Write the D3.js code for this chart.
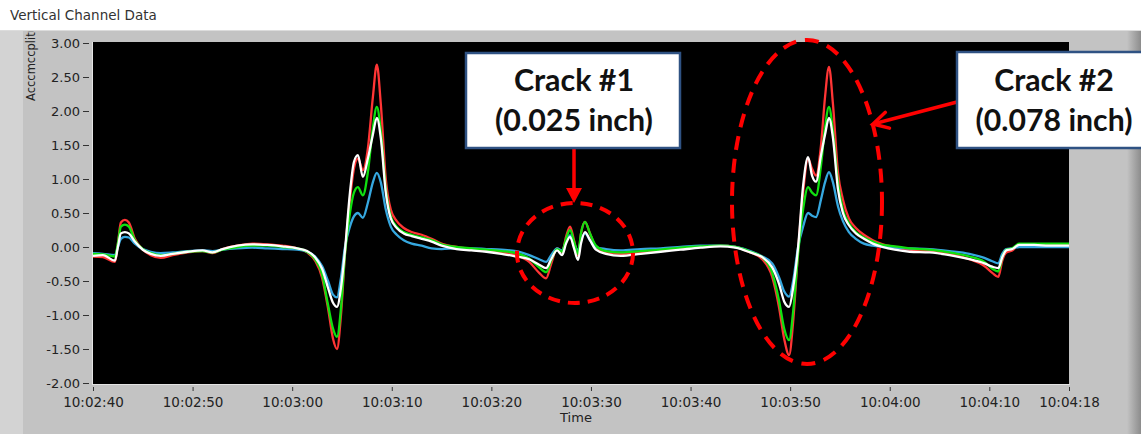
<!DOCTYPE html>
<html><head><meta charset="utf-8">
<script src="https://cdn.jsdelivr.net/npm/d3@7"></script>
<style>
html,body{margin:0;padding:0;background:#fff;overflow:hidden}
svg{display:block}
</style></head>
<body>
<svg id="chart" width="1141" height="434"></svg>
<script>
// ---- data (seconds after 10:02:40) ----
const timeSec = [0, 1, 2.2, 2.5, 2.8, 3.2, 3.6, 4.2, 5.0, 5.8,
 6.8, 8, 9.5, 11, 12, 13, 14.5, 16, 17.5, 19,
 20.5, 21.5, 22.3, 23, 23.6, 24.1, 24.5, 24.9, 25.3, 25.8,
 26.2, 26.6, 27.1, 27.6, 28.1, 28.5, 28.9, 29.4, 29.9, 30.5,
 31.2, 32, 33, 34, 35, 36.5, 38, 39.5, 41, 42.5,
 43.8, 44.8, 45.5, 46.0, 46.6, 47.1, 47.5, 47.9, 48.3, 48.7,
 49.0, 49.4, 49.9, 50.5, 51.5, 53, 55, 57, 59, 61,
 63, 64.5, 66, 67.2, 68.2, 68.9, 69.4, 69.9, 70.3, 70.8,
 71.3, 71.8, 72.2, 72.6, 73.1, 73.5, 73.9, 74.3, 74.8, 75.3,
 75.9, 76.6, 77.4, 78.3, 79.3, 80.5, 82, 84, 86, 88,
 89.5, 90.3, 90.9, 91.3, 91.7, 92.3, 93, 94.5, 96, 98];

const redValues = [-0.14, -0.15, -0.22, 0.05, 0.36, 0.40, 0.36, 0.12, -0.04, -0.12,
 -0.16, -0.12, -0.08, -0.06, -0.09, -0.03, 0.02, 0.05, 0.04, 0.02,
 -0.02, -0.08, -0.20, -0.45, -0.90, -1.35, -1.50, -1.00, -0.10, 0.70,
 1.15, 1.30, 1.13, 1.45, 2.20, 2.68, 2.10, 1.00, 0.55, 0.38,
 0.28, 0.22, 0.18, 0.12, 0.05, 0.00, -0.03, -0.05, -0.08, -0.12,
 -0.22, -0.38, -0.46, -0.25, -0.02, -0.08, 0.15, 0.30, 0.10, -0.12,
 0.20, 0.37, 0.20, 0.00, -0.08, -0.10, -0.08, -0.05, -0.02, 0.00,
 0.02, 0.00, -0.08, -0.18, -0.44, -0.90, -1.35, -1.59, -1.10, -0.05,
 0.80, 1.30, 1.15, 1.05, 1.50, 2.20, 2.65, 2.10, 1.10, 0.70,
 0.42, 0.28, 0.18, 0.10, 0.04, 0.00, -0.04, -0.06, -0.10, -0.18,
 -0.28, -0.38, -0.44, -0.20, -0.08, -0.05, 0.03, 0.03, 0.03, 0.03];

const greenValues = [-0.10, -0.11, -0.14, 0.05, 0.30, 0.33, 0.30, 0.10, -0.03, -0.09,
 -0.12, -0.10, -0.07, -0.06, -0.08, -0.04, 0.00, 0.02, 0.02, 0.00,
 -0.02, -0.07, -0.18, -0.40, -0.85, -1.20, -1.32, -0.90, -0.10, 0.50,
 0.80, 0.88, 0.76, 1.10, 1.75, 2.06, 1.70, 0.85, 0.45, 0.30,
 0.22, 0.18, 0.14, 0.10, 0.04, 0.00, -0.02, -0.04, -0.06, -0.09,
 -0.17, -0.30, -0.37, -0.20, -0.03, -0.07, 0.12, 0.25, 0.08, -0.10,
 0.20, 0.37, 0.20, 0.02, -0.06, -0.08, -0.06, -0.04, -0.01, 0.01,
 0.02, 0.00, -0.07, -0.15, -0.38, -0.80, -1.20, -1.37, -0.95, -0.10,
 0.55, 0.88, 0.80, 0.76, 1.20, 1.75, 2.06, 1.70, 0.95, 0.55,
 0.35, 0.22, 0.14, 0.08, 0.03, 0.01, -0.02, -0.04, -0.08, -0.14,
 -0.22, -0.32, -0.36, -0.15, -0.04, -0.02, 0.05, 0.05, 0.05, 0.05];

const whiteValues = [-0.13, -0.12, -0.20, 0.00, 0.20, 0.22, 0.20, 0.08, -0.04, -0.10,
 -0.13, -0.10, -0.07, -0.05, -0.08, -0.03, 0.02, 0.04, 0.03, 0.01,
 -0.02, -0.06, -0.15, -0.32, -0.60, -0.82, -0.88, -0.60, -0.05, 0.80,
 1.25, 1.35, 1.03, 1.30, 1.65, 1.90, 1.60, 0.80, 0.42, 0.28,
 0.20, 0.16, 0.12, 0.08, 0.02, -0.03, -0.05, -0.07, -0.10, -0.14,
 -0.18, -0.26, -0.31, -0.18, -0.05, -0.12, 0.05, 0.15, -0.02, -0.19,
 0.05, 0.22, 0.10, -0.04, -0.10, -0.13, -0.10, -0.07, -0.04, -0.01,
 0.01, -0.01, -0.08, -0.15, -0.30, -0.55, -0.80, -0.88, -0.60, 0.00,
 0.90, 1.32, 1.05, 0.96, 1.35, 1.65, 1.90, 1.60, 0.85, 0.50,
 0.32, 0.20, 0.12, 0.05, 0.00, -0.04, -0.07, -0.08, -0.12, -0.18,
 -0.24, -0.29, -0.31, -0.15, -0.05, -0.03, 0.03, 0.03, 0.02, 0.02];

const blueValues = [-0.09, -0.10, -0.12, 0.00, 0.12, 0.15, 0.14, 0.05, -0.03, -0.07,
 -0.09, -0.08, -0.06, -0.05, -0.06, -0.04, -0.02, -0.01, -0.02, -0.03,
 -0.04, -0.07, -0.14, -0.28, -0.50, -0.70, -0.74, -0.45, 0.00, 0.30,
 0.45, 0.50, 0.43, 0.65, 0.95, 1.09, 0.95, 0.55, 0.30, 0.18,
 0.10, 0.05, 0.02, -0.02, -0.03, -0.02, -0.02, -0.03, -0.04, -0.06,
 -0.12, -0.18, -0.22, -0.12, -0.02, -0.05, 0.08, 0.17, 0.05, -0.05,
 0.10, 0.20, 0.10, 0.00, -0.03, -0.05, -0.03, -0.02, 0.00, 0.02,
 0.02, 0.00, -0.06, -0.14, -0.24, -0.45, -0.65, -0.73, -0.50, 0.00,
 0.30, 0.50, 0.46, 0.44, 0.70, 0.95, 1.10, 0.95, 0.60, 0.38,
 0.22, 0.12, 0.05, 0.02, 0.00, -0.01, -0.02, -0.03, -0.06, -0.10,
 -0.16, -0.21, -0.24, -0.10, -0.03, -0.02, 0.00, 0.00, 0.00, 0.00];

const xTickLabels = ["10:02:40","10:02:50","10:03:00","10:03:10","10:03:20","10:03:30",
 "10:03:40","10:03:50","10:04:00","10:04:10","10:04:18"];
const yTickValues = [3, 2.5, 2, 1.5, 1, 0.5, 0, -0.5, -1, -1.5, -2];

const titleText = "Vertical Channel Data";
const yLabelText = "Acccmccplitu";
const xLabelText = "Time";
const crack1Lines = ["Crack #1", "(0.025 inch)"];
const crack2Lines = ["Crack #2", "(0.078 inch)"];

// ---- layout ----
const svg = d3.select("#chart");
const W = 1141, H = 434;
const plot = {left: 93, right: 1069, top: 42, bottom: 384};
const parse = d3.timeParse("%H:%M:%S");
const t0 = parse(xTickLabels[0]);
const tEnd = parse(xTickLabels[xTickLabels.length - 1]);
const toDate = s => new Date(t0.getTime() + s * 1000);

const x = d3.scaleTime().domain([t0, tEnd]).range([plot.left, plot.right]);
const y = d3.scaleLinear().domain([-2, 3]).range([383, 43]);

// backgrounds
const defs = svg.append("defs");
const rg = defs.append("linearGradient").attr("id", "rgrad").attr("x1", 0).attr("x2", 1).attr("y1", 0).attr("y2", 0);
rg.append("stop").attr("offset", 0).attr("stop-color", "#c3c3c3");
rg.append("stop").attr("offset", 1).attr("stop-color", "#8c8c8c");

svg.append("rect").attr("x", 0).attr("y", 0).attr("width", W).attr("height", H).attr("fill", "#ffffff");
svg.append("rect").attr("x", 0).attr("y", 30).attr("width", W).attr("height", H - 30).attr("fill", "#c3c3c3");
svg.append("rect").attr("x", 0).attr("y", 30).attr("width", 23).attr("height", H - 30).attr("fill", "#d3d3d3");
svg.append("rect").attr("x", 1127).attr("y", 30).attr("width", 14).attr("height", H - 30).attr("fill", "url(#rgrad)");
svg.append("line").attr("x1", 0).attr("x2", W).attr("y1", 30.5).attr("y2", 30.5).attr("stroke", "#dcdcdc");

// title
svg.append("text").attr("x", 10).attr("y", 20).text(titleText)
  .attr("font-family", "DejaVu Sans, sans-serif").attr("font-size", 13.5).attr("fill", "#333");

// plot background
svg.append("rect").attr("x", plot.left).attr("y", plot.top)
  .attr("width", plot.right - plot.left).attr("height", plot.bottom - plot.top).attr("fill", "#000");

// axes
const fmt = v => v.toFixed(2);
const yAxis = d3.axisLeft(y).tickValues(yTickValues).tickFormat(fmt).tickSize(6).tickPadding(3);
const gy = svg.append("g").attr("transform", "translate(89,0)").call(yAxis);
gy.select(".domain").remove();
gy.selectAll(".tick line").attr("stroke", "#333");
gy.selectAll(".tick text").attr("font-family", "DejaVu Sans, sans-serif").attr("font-size", 13).attr("fill", "#222");

const xAxis = d3.axisBottom(x).tickValues(xTickLabels.map(parse)).tickFormat(d3.timeFormat("%H:%M:%S")).tickSize(4).tickPadding(6);
const gx = svg.append("g").attr("transform", "translate(0,387)").call(xAxis);
gx.select(".domain").remove();
gx.selectAll(".tick line").attr("stroke", "#333");
gx.selectAll(".tick text").attr("font-family", "DejaVu Sans, sans-serif").attr("font-size", 13.5).attr("fill", "#222");

// frame lines
svg.append("line").attr("x1", plot.left - 0.5).attr("x2", plot.left - 0.5).attr("y1", plot.top).attr("y2", plot.bottom + 1)
  .attr("stroke", "#e4e4e4");
svg.append("line").attr("x1", plot.left - 1).attr("x2", plot.right + 1).attr("y1", plot.bottom + 0.5).attr("y2", plot.bottom + 0.5)
  .attr("stroke", "#e4e4e4");

// axis labels
const lclip = defs.append("clipPath").attr("id", "lclip");
lclip.append("rect").attr("x", 0).attr("y", 31).attr("width", 60).attr("height", 100);
svg.append("g").attr("clip-path", "url(#lclip)")
  .append("text").attr("transform", "translate(35,101) rotate(-90)").text(yLabelText)
  .attr("font-family", "DejaVu Sans, sans-serif").attr("font-size", 11.5).attr("fill", "#222");
svg.append("text").attr("x", 576).attr("y", 422).attr("text-anchor", "middle").text(xLabelText)
  .attr("font-family", "DejaVu Sans, sans-serif").attr("font-size", 13).attr("fill", "#222");

// series
const series = [
  {name: "red", values: redValues, color: "#ff3535"},
  {name: "blue", values: blueValues, color: "#36a8e0"},
  {name: "green", values: greenValues, color: "#10e010"},
  {name: "white", values: whiteValues, color: "#ffffff"}
];
const clip = defs.append("clipPath").attr("id", "pclip");
clip.append("rect").attr("x", plot.left).attr("y", plot.top).attr("width", plot.right - plot.left).attr("height", plot.bottom - plot.top);
const line = d3.line().x((d, i) => x(toDate(timeSec[i]))).y(d => y(d)).curve(d3.curveMonotoneX);
const gl = svg.append("g").attr("clip-path", "url(#pclip)");
series.forEach(s => {
  gl.append("path").datum(s.values).attr("d", line).attr("fill", "none")
    .attr("stroke", s.color).attr("stroke-width", 2.3).attr("stroke-linejoin", "round");
});

// annotations
const red = "#ff0000";
const ann = svg.append("g");
ann.append("ellipse").attr("cx", 575).attr("cy", 253).attr("rx", 58).attr("ry", 50)
  .attr("fill", "none").attr("stroke", red).attr("stroke-width", 4).attr("stroke-dasharray", "12 8");
ann.append("ellipse").attr("cx", 807).attr("cy", 202).attr("rx", 75).attr("ry", 162)
  .attr("fill", "none").attr("stroke", red).attr("stroke-width", 4).attr("stroke-dasharray", "14 9");

// arrow 1 (filled head, pointing down)
ann.append("line").attr("x1", 574).attr("x2", 574).attr("y1", 148).attr("y2", 190).attr("stroke", red).attr("stroke-width", 3.5);
ann.append("path").attr("d", "M566,188 L582,188 L574,203 Z").attr("fill", red);

// arrow 2 (open head)
const ax1 = 957, ay1 = 102, ax2 = 873, ay2 = 124;
ann.append("line").attr("x1", ax1).attr("y1", ay1).attr("x2", ax2 + 2).attr("y2", ay2 - 0.5).attr("stroke", red).attr("stroke-width", 3.5);
const ang = Math.atan2(ay1 - ay2, ax1 - ax2);
const hl = 17, ha = 0.5;
ann.append("path").attr("d",
  `M${ax2 + hl * Math.cos(ang - ha)},${ay2 + hl * Math.sin(ang - ha)} L${ax2},${ay2} L${ax2 + hl * Math.cos(ang + ha)},${ay2 + hl * Math.sin(ang + ha)}`)
  .attr("fill", "none").attr("stroke", red).attr("stroke-width", 3.5).attr("stroke-linecap", "round").attr("stroke-linejoin", "miter");

// boxes
function box(x0, y0, w, h, cx, lines, targetW) {
  ann.append("rect").attr("x", x0).attr("y", y0).attr("width", w).attr("height", h)
    .attr("fill", "#fff").attr("stroke", "#2f5283").attr("stroke-width", 2.5);
  const t = ann.append("text").attr("font-family", "Lato, 'Open Sans', sans-serif").attr("font-weight", 700)
    .attr("font-size", 28).attr("fill", "#111").attr("text-anchor", "middle");
  t.append("tspan").attr("x", cx).attr("y", 91).text(lines[0]);
  t.append("tspan").attr("x", cx).attr("y", 131).text(lines[1]);
  const w2 = t.selectAll("tspan").nodes()[1].getComputedTextLength();
  t.attr("font-size", 28 * targetW / w2);
}
box(466, 53, 214, 95, 574, crack1Lines, 158);
box(957, 52, 200, 96, 1054, crack2Lines, 157);
</script>
</body></html>
